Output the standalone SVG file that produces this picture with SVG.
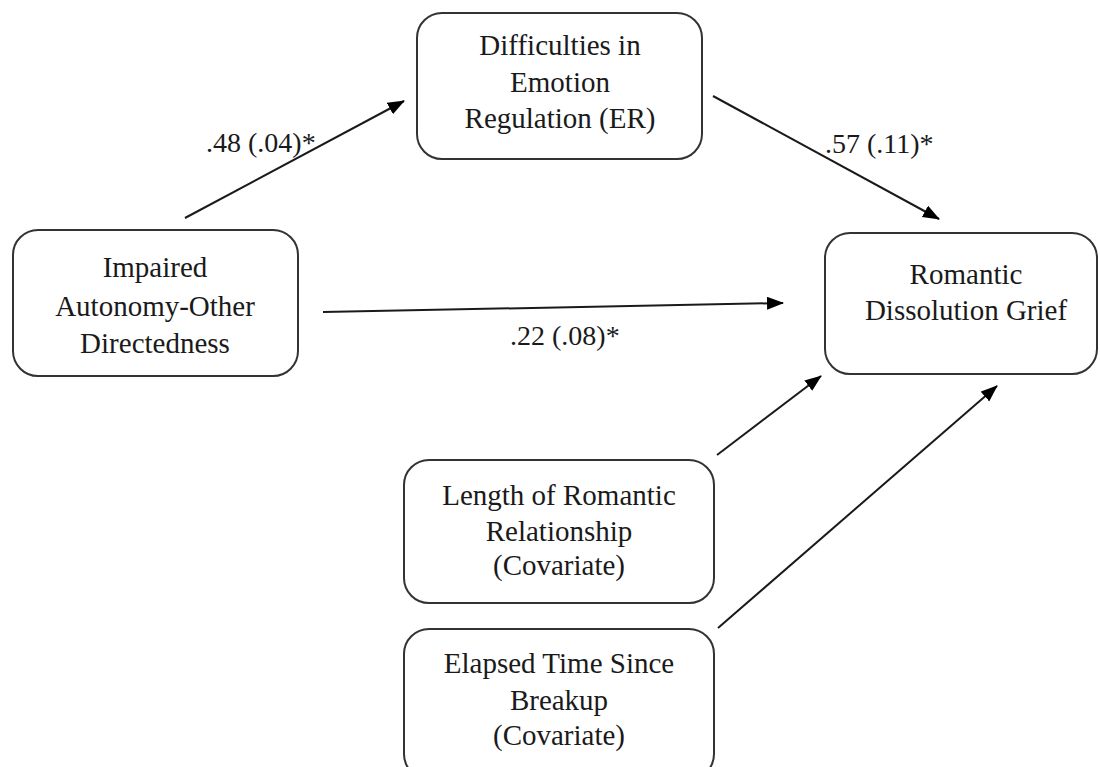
<svg xmlns="http://www.w3.org/2000/svg" width="1100" height="767" viewBox="0 0 1100 767">
  <style>
    text { font-family: "Liberation Serif", "Times New Roman", serif; }
    .box { fill: #ffffff; stroke: #333333; stroke-width: 2; }
    .lbl { font-size: 29px; fill: #1a1a1a; text-anchor: middle; }
    .coef { font-size: 28px; fill: #1a1a1a; }
    .edge { stroke: #1a1a1a; stroke-width: 2; fill: none; marker-end: url(#head); }
  </style>
  <defs>
    <marker id="head" markerUnits="userSpaceOnUse" markerWidth="18" markerHeight="14" refX="16" refY="6.5" orient="auto">
      <path d="M0,0 L17,6.5 L0,13 z" fill="#000000"/>
    </marker>
  </defs>
  <rect width="1100" height="767" fill="#ffffff"/>

  <!-- connectors -->
  <g id="connectors">
    <line class="edge" x1="185" y1="218" x2="404" y2="101"/>
    <line class="edge" x1="713" y1="96" x2="939" y2="219"/>
    <line class="edge" x1="323" y1="312" x2="783" y2="303"/>
    <line class="edge" x1="717" y1="455" x2="821" y2="376"/>
    <line class="edge" x1="718" y1="628" x2="997" y2="386"/>
    <text class="coef" x="206" y="152" font-family="Liberation Serif, serif">.48 (.04)*</text>
    <text class="coef" x="825" y="153" font-family="Liberation Serif, serif">.57 (.11)*</text>
    <text class="coef" x="510" y="345" font-family="Liberation Serif, serif">.22 (.08)*</text>
  </g>

  <!-- nodes -->
  <g id="node-er">
    <rect class="box" x="417" y="13" width="285" height="146" rx="25"/>
    <text class="lbl" x="560" y="55" font-family="Liberation Serif, serif">Difficulties in</text>
    <text class="lbl" x="560" y="92" font-family="Liberation Serif, serif">Emotion</text>
    <text class="lbl" x="560" y="128" font-family="Liberation Serif, serif">Regulation (ER)</text>
  </g>

  <g id="node-autonomy">
    <rect class="box" x="13" y="230" width="285" height="146" rx="25"/>
    <text class="lbl" x="155" y="277" font-family="Liberation Serif, serif">Impaired</text>
    <text class="lbl" x="155" y="316" font-family="Liberation Serif, serif">Autonomy-Other</text>
    <text class="lbl" x="155" y="353" font-family="Liberation Serif, serif">Directedness</text>
  </g>

  <g id="node-grief">
    <rect class="box" x="825" y="233" width="272" height="141" rx="25"/>
    <text class="lbl" x="966" y="284" font-family="Liberation Serif, serif">Romantic</text>
    <text class="lbl" x="966" y="320" font-family="Liberation Serif, serif">Dissolution Grief</text>
  </g>

  <g id="node-length">
    <rect class="box" x="404" y="460" width="310" height="143" rx="25"/>
    <text class="lbl" x="559" y="505" font-family="Liberation Serif, serif">Length of Romantic</text>
    <text class="lbl" x="559" y="541" font-family="Liberation Serif, serif">Relationship</text>
    <text class="lbl" x="559" y="575" font-family="Liberation Serif, serif">(Covariate)</text>
  </g>

  <g id="node-elapsed">
    <rect class="box" x="404" y="629" width="310" height="150" rx="25"/>
    <text class="lbl" x="559" y="673" font-family="Liberation Serif, serif">Elapsed Time Since</text>
    <text class="lbl" x="559" y="710" font-family="Liberation Serif, serif">Breakup</text>
    <text class="lbl" x="559" y="745" font-family="Liberation Serif, serif">(Covariate)</text>
  </g>
</svg>
